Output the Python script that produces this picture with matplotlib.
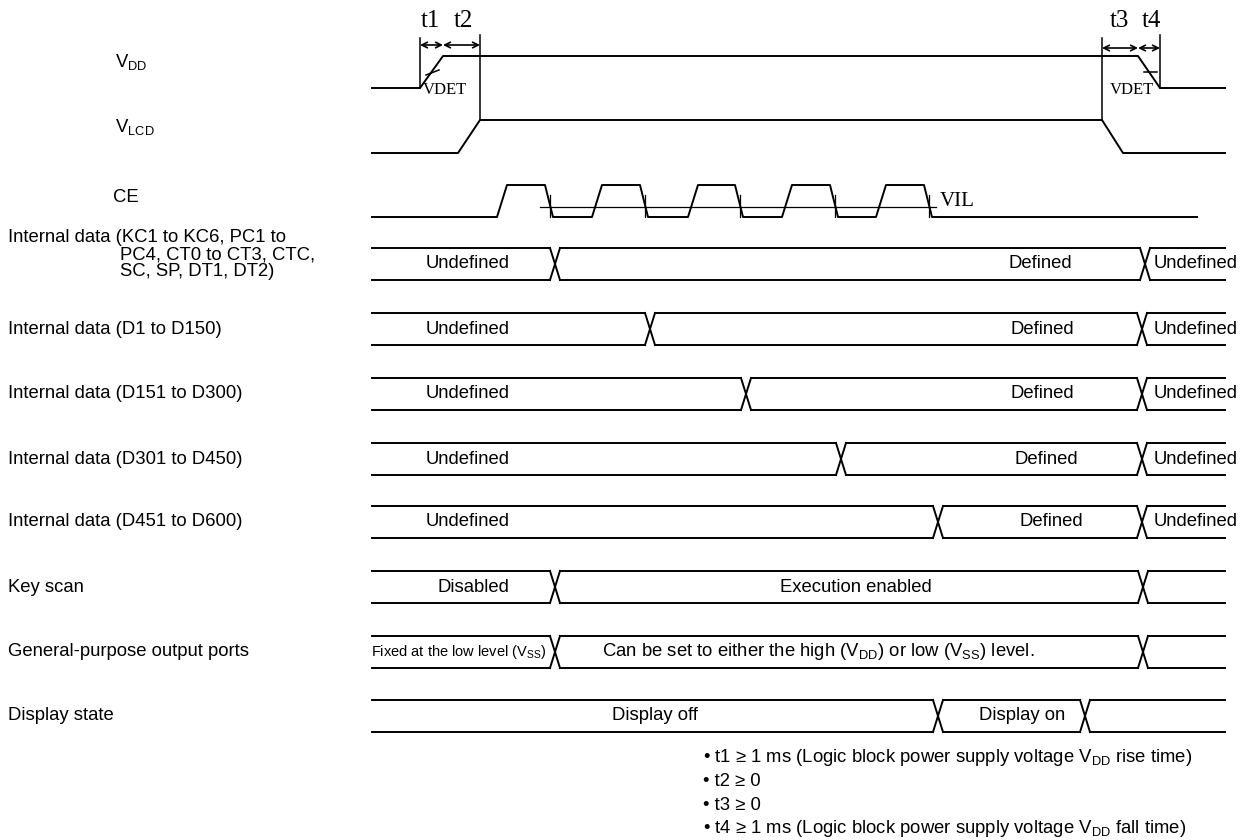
import matplotlib.pyplot as plt
from matplotlib import font_manager

plt.rcParams['font.family'] = ['Liberation Sans', 'DejaVu Sans']
plt.rcParams['mathtext.fontset'] = 'custom'
plt.rcParams['mathtext.rm'] = 'Liberation Sans'

W, H = 1253, 840
X0, X1 = 372, 1225          # start / end of every trace

# supply traces: edge times and levels
vdd_x = [X0, 420, 443, 1138, 1160, X1]
vdd_y = [88, 88, 56, 56, 88, 88]
vlcd_x = [X0, 458, 480, 1102, 1123, X1]
vlcd_y = [153, 153, 120, 120, 153, 153]

# CE pulses: rise start, top start, top end, fall end
ce_pulses = [(497, 507, 545, 553), (592, 602, 640, 648), (688, 698, 735, 743),
             (782, 792, 830, 838), (876, 886, 924, 932)]
ce_lo, ce_hi, vil_y = 217, 185, 207
ce_end = 1197

# bus rows
row_labels = [
    "Internal data (D1 to D150)",
    "Internal data (D151 to D300)",
    "Internal data (D301 to D450)",
    "Internal data (D451 to D600)",
    "Key scan",
    "General-purpose output ports",
    "Display state",
]
row_tops = [248, 313, 378, 443, 506, 571, 636, 700]
row_edges = [[555, 1145], [650, 1142], [746, 1142], [841, 1142], [938, 1142],
             [555, 1143], [555, 1143], [938, 1085]]
row_texts = [
    [("Undefined", 468), ("Defined", 1040), ("Undefined", 1196)],
    [("Undefined", 468), ("Defined", 1042), ("Undefined", 1196)],
    [("Undefined", 468), ("Defined", 1042), ("Undefined", 1196)],
    [("Undefined", 468), ("Defined", 1046), ("Undefined", 1196)],
    [("Undefined", 468), ("Defined", 1051), ("Undefined", 1196)],
    [("Disabled", 473), ("Execution enabled", 856)],
    [(r"Fixed at the low level ($\mathregular{V_{SS}}$)", 459),
     (r"Can be set to either the high ($\mathregular{V_{DD}}$) or low ($\mathregular{V_{SS}}$) level.", 818)],
    [("Display off", 655), ("Display on", 1022)],
]
row_h = 32
xw = 5

notes = [
    r"• t1 ≥ 1 ms (Logic block power supply voltage $\mathregular{V_{DD}}$ rise time)",
    "• t2 ≥ 0",
    "• t3 ≥ 0",
    r"• t4 ≥ 1 ms (Logic block power supply voltage $\mathregular{V_{DD}}$ fall time)",
]

fs = 13.3

# condensed face for the long "Fixed at..." label, if there is one
names = {f.name for f in font_manager.fontManager.ttflist}
narrow = 'Liberation Sans Narrow' if 'Liberation Sans Narrow' in names else None

fig = plt.figure(figsize=(W / 100, H / 100), dpi=100)
ax = fig.add_axes([0, 0, 1, 1])
ax.set_xlim(0, W)
ax.set_ylim(H, 0)
ax.axis('off')

lw = 1.4
serif = dict(family='Liberation Serif', color='black')

# VDD / VLCD
ax.plot(vdd_x, vdd_y, color='black', lw=lw)
ax.plot(vlcd_x, vlcd_y, color='black', lw=lw)
ax.plot([vdd_x[1]] * 2, [38, vdd_y[1]], color='black', lw=1.1)
ax.plot([vlcd_x[2]] * 2, [35, vlcd_y[2]], color='black', lw=1.1)
ax.plot([vlcd_x[3]] * 2, [38, vlcd_y[3]], color='black', lw=1.1)
ax.plot([vdd_x[4]] * 2, [35, vdd_y[4]], color='black', lw=1.1)
for a, b, y in [(vdd_x[1], vdd_x[2], 45), (vdd_x[2], vlcd_x[2], 45),
                (vlcd_x[3], vdd_x[3], 48), (vdd_x[3], vdd_x[4], 48)]:
    ax.annotate('', xy=(a, y), xytext=(b, y),
                arrowprops=dict(arrowstyle='<->', lw=1.2, color='black',
                                shrinkA=0, shrinkB=0, mutation_scale=10))
for lab, x in [("t1", 430), ("t2", 463), ("t3", 1119), ("t4", 1151)]:
    ax.text(x, 21, lab, ha='center', va='center', fontsize=18, **serif)
ax.plot([426, 439], [75, 70], color='black', lw=1.1)
ax.plot([1144, 1157], [72, 72], color='black', lw=1.1)
ax.text(445, 90, "VDET", ha='center', va='center', fontsize=12, **serif)
ax.text(1132, 90, "VDET", ha='center', va='center', fontsize=12, **serif)

# CE
cx, cy = [X0], [ce_lo]
for r0, r1, f0, f1 in ce_pulses:
    cx += [r0, r1, f0, f1]
    cy += [ce_lo, ce_hi, ce_hi, ce_lo]
cx.append(ce_end)
cy.append(ce_lo)
ax.plot(cx, cy, color='black', lw=lw)
ax.plot([540, ce_pulses[-1][3] + 4], [vil_y, vil_y], color='black', lw=0.9)
for p in ce_pulses:
    ax.plot([p[3] - 3] * 2, [195, ce_lo], color='black', lw=0.9)
ax.text(ce_pulses[-1][3] + 8, vil_y - 5, "VIL", ha='left', va='center', fontsize=15, **serif)

# bus rows
for top, edges, texts in zip(row_tops, row_edges, row_texts):
    bot = top + row_h
    xs = [X0] + edges + [X1]
    for i in range(len(xs) - 1):
        a = xs[i] + (xw if i > 0 else 0)
        b = xs[i + 1] - (xw if i < len(xs) - 2 else 0)
        ax.plot([a, b], [top, top], color='black', lw=lw)
        ax.plot([a, b], [bot, bot], color='black', lw=lw)
    for e in edges:
        ax.plot([e - xw, e + xw], [top, bot], color='black', lw=lw)
        ax.plot([e - xw, e + xw], [bot, top], color='black', lw=lw)
    for txt, x in texts:
        kw = dict(fontsize=fs)
        if txt.startswith("Fixed"):
            kw = dict(fontsize=12.3, family=narrow) if narrow else dict(fontsize=10.5)
        ax.text(x, top + row_h / 2, txt, ha='center', va='center', **kw)

# left labels
ax.text(115, 62, r"$\mathregular{V_{DD}}$", ha='left', va='center', fontsize=fs)
ax.text(115, 127, r"$\mathregular{V_{LCD}}$", ha='left', va='center', fontsize=fs)
ax.text(113, 198, "CE", ha='left', va='center', fontsize=fs)
ax.text(8, 238, "Internal data (KC1 to KC6, PC1 to", ha='left', va='center', fontsize=fs)
ax.text(120, 255, "PC4, CT0 to CT3, CTC,", ha='left', va='center', fontsize=fs)
ax.text(120, 272, "SC, SP, DT1, DT2)", ha='left', va='center', fontsize=fs)
for lab, top in zip(row_labels, row_tops[1:]):
    ax.text(8, top + row_h / 2, lab, ha='left', va='center', fontsize=fs)

for i, n in enumerate(notes):
    ax.text(703, 758 + 23.5 * i, n, ha='left', va='center', fontsize=fs)

fig.savefig("out.png", dpi=100)
